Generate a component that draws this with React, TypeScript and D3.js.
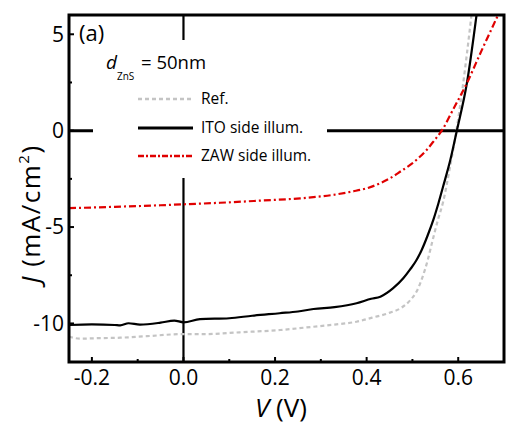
import React from "react";
import * as d3 from "d3";

// ---- data ----
const refV = [-0.25, -0.226, -0.18, -0.138, -0.08, 0, 0.05, 0.123, 0.211, 0.284, 0.33, 0.378, 0.412, 0.451, 0.475, 0.495, 0.51, 0.522, 0.533, 0.545, 0.556, 0.567, 0.582, 0.596, 0.61, 0.629];
const refJ = [-10.68, -10.79, -10.76, -10.74, -10.66, -10.55, -10.55, -10.46, -10.34, -10.17, -10.06, -9.91, -9.7, -9.44, -9.2, -8.8, -8.3, -7.6, -6.75, -5.6, -4.6, -3.7, -1.9, 0, 2.3, 6.0];

const itoV = [-0.25, -0.2, -0.15, -0.138, -0.12, -0.095, -0.05, -0.02, 0, 0.036, 0.1, 0.15, 0.21, 0.25, 0.284, 0.33, 0.378, 0.41, 0.43, 0.458, 0.48, 0.495, 0.508, 0.52, 0.533, 0.546, 0.557, 0.567, 0.583, 0.597, 0.619, 0.64];
const itoJ = [-10.08, -10.05, -10.08, -10.1, -9.99, -10.06, -9.96, -9.85, -9.94, -9.78, -9.73, -9.6, -9.47, -9.38, -9.25, -9.15, -8.95, -8.72, -8.61, -8.17, -7.66, -7.2, -6.75, -6.2, -5.45, -4.6, -3.75, -2.9, -1.5, 0, 2.47, 6.0];

const zawV = [-0.25, -0.15, -0.05, 0, 0.08, 0.167, 0.255, 0.327, 0.37, 0.4, 0.43, 0.451, 0.475, 0.495, 0.515, 0.531, 0.548, 0.564, 0.59, 0.619, 0.65, 0.687];
const zawJ = [-4.02, -3.95, -3.87, -3.82, -3.74, -3.63, -3.51, -3.33, -3.15, -2.99, -2.72, -2.47, -2.1, -1.78, -1.38, -1.0, -0.5, 0, 1.15, 2.47, 4.1, 6.0];

const xMajorTicks = [-0.2, 0, 0.2, 0.4, 0.6];
const xTickLabels = ["-0.2", "0.0", "0.2", "0.4", "0.6"];
const xMinorTicks = [-0.1, 0.1, 0.3, 0.5];
const yMajorTicks = [5, 0, -5, -10];
const yTickLabels = ["5", "0", "-5", "-10"];
const yMinorTicks = [2.5, -2.5, -7.5];

const legendLabels = ["Ref.", "ITO side illum.", "ZAW side illum."];

const FONT = "'Open Sans', 'Noto Sans', sans-serif";

export default function App() {
  const left = 69, right = 504, top = 15, bottom = 362;
  const x = d3.scaleLinear().domain([-0.25, 0.7]).range([left, right]);
  const y = d3.scaleLinear().domain([-12, 6]).range([bottom, top]);

  const mk = (vs: number[], js: number[]) =>
    d3.line<number>().x((_, i) => x(vs[i])).y((_, i) => y(js[i])).curve(d3.curveMonotoneX)(vs.map((_, i) => i)) || "";

  const refPath = mk(refV, refJ);
  const itoPath = mk(itoV, itoJ);
  const zawPath = mk(zawV, zawJ);

  const legendStyles = [
    { stroke: "#c4c4c4", dash: "4,3", width: 2.2 },
    { stroke: "#000", dash: "", width: 2.5 },
    { stroke: "#e00000", dash: "6,2,2,2", width: 2.2 },
  ];
  const legendY = [99, 128, 156];

  return (
    <svg width={530} height={426} style={{ position: "absolute", left: 0, top: 0, background: "#fff" }} fontFamily={FONT}>
      <defs>
        <clipPath id="plotclip">
          <rect x={left} y={top} width={right - left} height={bottom - top} />
        </clipPath>
      </defs>
      <rect x={0} y={0} width={530} height={426} fill="#fff" />
      {/* zero lines */}
      <line x1={left} x2={right} y1={y(0)} y2={y(0)} stroke="#000" strokeWidth={3} />
      <line x1={x(0)} x2={x(0)} y1={top} y2={bottom} stroke="#000" strokeWidth={2.2} />
      {/* legend background */}
      <rect x={93} y={40} width={234} height={138} fill="#fff" />
      {/* legend */}
      {legendLabels.map((lab, i) => (
        <g key={lab}>
          <line x1={138} x2={193} y1={legendY[i]} y2={legendY[i]} stroke={legendStyles[i].stroke}
            strokeWidth={legendStyles[i].width + 0.5} strokeDasharray={legendStyles[i].dash} />
          <text x={201} y={legendY[i]} dy="0.35em" fontSize={15.5} fill="#000">{lab}</text>
        </g>
      ))}
      <text x={79} y={41} fontSize={22} fill="#000">(a)</text>
      <text x={106} y={69} fontSize={19} fill="#000">
        <tspan fontStyle="italic">d</tspan>
      </text>
      <text x={117} y={80} fontSize={10} fill="#000">ZnS</text>
      <text x={141} y={69} fontSize={18.5} fill="#000">= 50nm</text>
      {/* data */}
      <g clipPath="url(#plotclip)" fill="none">
        <path d={refPath} stroke="#c4c4c4" strokeWidth={2.2} strokeDasharray="4,3" />
        <path d={itoPath} stroke="#000" strokeWidth={2.2} />
        <path d={zawPath} stroke="#e00000" strokeWidth={2.2} strokeDasharray="7,3,2,3" />
      </g>
      {/* frame */}
      <rect x={left} y={top} width={right - left} height={bottom - top} fill="none" stroke="#000" strokeWidth={3} />
      {/* ticks */}
      {xMajorTicks.map((t) => (
        <line key={"xM" + t} x1={x(t)} x2={x(t)} y1={bottom} y2={bottom - 5} stroke="#000" strokeWidth={2} />
      ))}
      {xMinorTicks.map((t) => (
        <line key={"xm" + t} x1={x(t)} x2={x(t)} y1={bottom} y2={bottom - 3} stroke="#000" strokeWidth={2} />
      ))}
      {yMajorTicks.map((t) => (
        <line key={"yM" + t} x1={left} x2={left + 5} y1={y(t)} y2={y(t)} stroke="#000" strokeWidth={2} />
      ))}
      {yMinorTicks.map((t) => (
        <line key={"ym" + t} x1={left} x2={left + 3} y1={y(t)} y2={y(t)} stroke="#000" strokeWidth={2} />
      ))}
      {/* tick labels */}
      {xMajorTicks.map((t, i) => (
        <text key={"xl" + t} x={x(t)} y={385} textAnchor="middle" fontSize={21} fill="#000">{xTickLabels[i]}</text>
      ))}
      {yMajorTicks.map((t, i) => (
        <text key={"yl" + t} x={64} y={y(t)} dy="0.35em" textAnchor="end" fontSize={21} fill="#000">{yTickLabels[i]}</text>
      ))}
      {/* axis titles */}
      <text x={281} y={417} textAnchor="middle" fontSize={26} fill="#000">
        <tspan fontStyle="italic">V</tspan> (V)
      </text>
      <g transform="translate(40,214) rotate(-90)">
        <text x={0} y={0} textAnchor="middle" fontSize={26} letterSpacing={1.5} fill="#000">
          <tspan fontStyle="italic">J</tspan> (mA/cm<tspan dy={-11} fontSize={15}>2</tspan><tspan dy={11}>)</tspan>
        </text>
      </g>
    </svg>
  );
}
